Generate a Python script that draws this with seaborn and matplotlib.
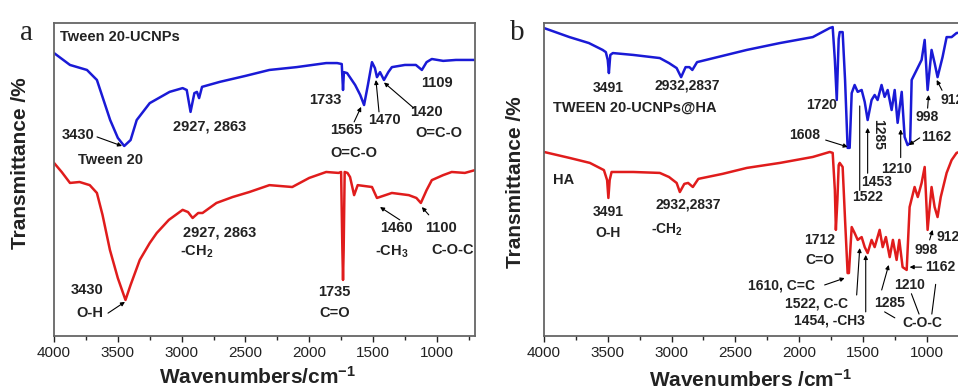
import numpy as np
import pandas as pd
import matplotlib
matplotlib.use('Agg')
import matplotlib.pyplot as plt
import seaborn as sns

# panel a: Tween 20-UCNPs (blue) and Tween 20 (red)
wn_a_blue = [4000, 3875, 3742, 3664, 3560, 3500, 3450, 3400, 3352, 3250, 3094, 2992, 2960, 2930,
             2900, 2880, 2863, 2840, 2700, 2500, 2312, 2100, 1867, 1781, 1745, 1735, 1728, 1703,
             1640, 1600, 1570, 1540, 1508, 1485, 1469, 1445, 1414, 1380, 1352, 1250, 1164, 1117,
             1080, 1039, 950, 850, 700]
t_a_blue = [90.4, 86.6, 85.0, 81.8, 69.0, 63.3, 60.7, 62.6, 69.0, 74.4, 78.0, 79.2, 78.6, 71.6,
            77.6, 78.0, 76.0, 79.6, 81.2, 83.1, 85.0, 85.9, 87.2, 87.2, 86.9, 78.6, 84.3, 84.0,
            80.2, 77.0, 73.8, 80.2, 87.5, 85.6, 82.7, 84.3, 81.8, 84.3, 85.9, 86.6, 86.6, 85.0,
            87.5, 88.5, 87.9, 88.2, 88.2]

wn_a_red = [4000, 3940, 3875, 3800, 3720, 3664, 3620, 3562, 3500, 3440, 3400, 3328, 3250, 3195,
            3100, 2992, 2950, 2914, 2870, 2836, 2727, 2600, 2469, 2312, 2133, 2000, 1867, 1770,
            1750, 1740, 1735, 1730, 1722, 1700, 1680, 1648, 1620, 1508, 1469, 1352, 1219, 1160,
            1125, 1080, 1039, 950, 883, 780, 700]
t_a_red = [55.3, 52.4, 48.9, 49.2, 48.2, 45.7, 38.7, 27.5, 18.5, 11.5, 16.3, 24.3, 29.7, 32.9,
           37.1, 40.3, 39.6, 37.7, 39.3, 39.3, 42.5, 44.4, 46.0, 48.2, 47.6, 50.5, 52.4, 52.1,
           52.4, 27.5, 17.9, 27.5, 52.4, 52.1, 50.8, 45.0, 48.2, 47.6, 44.1, 45.7, 45.0, 44.1,
           42.5, 46.6, 49.8, 51.4, 52.4, 52.1, 53.0]

# panel b: TWEEN 20-UCNPs@HA (blue) and HA (red)
wn_b_blue = [4000, 3800, 3648, 3540, 3515, 3500, 3491, 3480, 3460, 3300, 3092, 3020, 2960, 2925,
             2890, 2860, 2837, 2800, 2600, 2410, 2150, 1893, 1760, 1737, 1720, 1705, 1690, 1682,
             1659, 1640, 1620, 1604, 1588, 1565, 1541, 1510, 1486, 1463, 1432, 1408, 1385, 1354,
             1330, 1306, 1275, 1251, 1228, 1196, 1173, 1150, 1130, 1118, 1079, 1040, 1016, 993,
             962, 938, 915, 876, 844, 805, 766, 700]
t_b_blue = [98.4, 95.5, 93.6, 91.4, 90.7, 88.2, 84.0, 89.8, 90.4, 89.8, 88.8, 87.2, 85.6, 82.7,
            85.9, 85.9, 85.0, 87.5, 89.5, 91.4, 93.6, 95.5, 98.4, 98.7, 88.2, 75.4, 94.9, 97.1,
            97.1, 81.8, 60.1, 60.1, 77.6, 80.2, 78.0, 78.6, 74.8, 69.0, 75.4, 77.0, 75.4, 80.2,
            76.4, 78.6, 72.2, 78.6, 68.1, 78.0, 63.6, 61.0, 61.7, 81.8, 85.0, 88.2, 94.6, 78.6,
            91.4, 87.2, 82.7, 89.1, 95.5, 95.5, 96.8, 97.1]

wn_b_red = [4000, 3800, 3640, 3530, 3505, 3495, 3485, 3470, 3300, 3092, 3020, 2960, 2935, 2900,
            2870, 2833, 2790, 2600, 2410, 2150, 1893, 1760, 1737, 1720, 1712, 1700, 1690, 1682,
            1659, 1640, 1620, 1610, 1588, 1565, 1541, 1510, 1486, 1463, 1432, 1408, 1369, 1345,
            1320, 1290, 1265, 1236, 1215, 1189, 1157, 1134, 1095, 1070, 1040, 1016, 993, 962,
            938, 915, 890, 844, 805, 766, 700]
t_b_red = [58.8, 56.9, 55.3, 53.0, 49.8, 44.1, 49.8, 52.4, 52.4, 52.1, 50.8, 48.9, 46.0, 48.6,
           48.9, 47.6, 50.2, 51.8, 53.7, 55.3, 57.2, 58.8, 58.5, 46.6, 33.9, 43.5, 54.6, 55.3,
           54.0, 37.1, 20.1, 20.1, 34.8, 32.9, 30.7, 31.6, 28.4, 26.5, 30.7, 28.4, 33.9, 28.4,
           31.6, 25.2, 30.7, 24.3, 30.7, 22.0, 21.1, 41.2, 47.6, 44.4, 48.9, 54.0, 33.9, 47.6,
           41.2, 38.0, 44.4, 52.1, 56.2, 58.5, 59.4]

x_ticks = [4000, 3500, 3000, 2500, 2000, 1500, 1000]

BLUE = '#1a1ad6'
RED = '#e01c1c'

sns.set_theme(style='white')
plt.rcParams['font.family'] = ['Liberation Sans', 'DejaVu Sans']
plt.rcParams['mathtext.default'] = 'regular'

fig = plt.figure(figsize=(9.58, 3.9), dpi=100)
ax_a = fig.add_axes([0.0564, 0.1385, 0.4395, 0.8025])
ax_b = fig.add_axes([0.5678, 0.1385, 0.4395, 0.8025])

for ax, wb, tb, wr, tr in [(ax_a, wn_a_blue, t_a_blue, wn_a_red, t_a_red),
                           (ax_b, wn_b_blue, t_b_blue, wn_b_red, t_b_red)]:
    sns.lineplot(x=wb, y=tb, ax=ax, color=BLUE, lw=1.8, sort=False, estimator=None)
    sns.lineplot(x=wr, y=tr, ax=ax, color=RED, lw=1.8, sort=False, estimator=None)
    ax.set_xlim(4000, 700)
    ax.set_ylim(0, 100)
    ax.set_xticks(x_ticks)
    ax.set_xticks(np.arange(3750, 700, -500), minor=True)
    ax.set_yticks([])
    ax.tick_params(axis='x', which='major', direction='out', length=4, width=1, pad=3,
                   labelsize=11, colors='#222222', bottom=True)
    ax.tick_params(axis='x', which='minor', direction='out', length=3, width=1, bottom=True)
    for s in ax.spines.values():
        s.set_color('#666666')
        s.set_linewidth(1.3)

arrow_kw = dict(arrowstyle='-|>', color='black', lw=0.8, mutation_scale=6, shrinkA=0, shrinkB=0)
line_kw = dict(arrowstyle='-', color='black', lw=0.8, shrinkA=0, shrinkB=0)
tk = dict(fontsize=10, fontweight='bold', color='#222222', ha='center', va='center')
tka = {**tk, 'fontsize': 10.5}

# ---- panel a texts
ax_a.text(3953, 95.5, 'Tween 20-UCNPs', fontsize=10.5, fontweight='bold', color='#222222',
          ha='left', va='center')
ax_a.text(3812, 64.2, '3430', **tka)
ax_a.annotate('', xy=(3467, 60.7), xytext=(3663, 63.6), arrowprops=arrow_kw)
ax_a.text(3561, 56.2, 'Tween 20', **tka)
ax_a.text(2781, 66.8, '2927, 2863', **tka)
ax_a.text(1875, 75.4, '1733', **tka)
ax_a.text(1711, 65.8, '1565', **tka)
ax_a.annotate('', xy=(1593, 73.2), xytext=(1648, 68.4), arrowprops=arrow_kw)
ax_a.text(1648, 58.5, 'O=C-O', **tka)
ax_a.text(1414, 69.0, '1470', **tka)
ax_a.annotate('', xy=(1477, 81.8), xytext=(1453, 71.6), arrowprops=arrow_kw)
ax_a.text(1078, 71.6, '1420', **tka)
ax_a.annotate('', xy=(1414, 81.0), xytext=(1180, 72.8), arrowprops=arrow_kw)
ax_a.text(984, 64.9, 'O=C-O', **tka)
ax_a.text(1000, 80.8, '1109', **tka)

ax_a.text(2700, 33.2, '2927, 2863', **tka)
ax_a.text(2880, 27.0, '-CH$_2$', **tka)
ax_a.text(3742, 14.7, '3430', **tka)
ax_a.text(3718, 7.3, 'O-H', **tka)
ax_a.annotate('', xy=(3444, 10.9), xytext=(3577, 7.3), arrowprops=arrow_kw)
ax_a.text(1800, 14.1, '1735', **tka)
ax_a.text(1800, 7.3, 'C=O', **tka)
ax_a.text(1314, 34.5, '1460', **tka)
ax_a.annotate('', xy=(1445, 41.2), xytext=(1290, 37.1), arrowprops=arrow_kw)
ax_a.text(1353, 27.0, '-CH$_3$', **tka)
ax_a.text(969, 34.5, '1100', **tka)
ax_a.annotate('', xy=(1117, 41.2), xytext=(1063, 38.7), arrowprops=arrow_kw)
ax_a.text(875, 27.5, 'C-O-C', **tka)

# ---- panel b texts
ax_b.text(3499, 79.2, '3491', **tk)
ax_b.text(2880, 79.9, '2932,2837', **tk)
ax_b.text(3930, 72.8, 'TWEEN 20-UCNPs@HA', fontsize=10.5, fontweight='bold', color='#222222',
          ha='left', va='center')
ax_b.text(1823, 73.8, '1720', **tk)
ax_b.text(1956, 64.2, '1608', **tk)
ax_b.annotate('', xy=(1619, 60.4), xytext=(1792, 62.6), arrowprops=arrow_kw)
ax_b.text(3930, 49.8, 'HA', fontsize=10.5, fontweight='bold', color='#222222',
          ha='left', va='center')
ax_b.text(993, 70.0, '998', **tk)
ax_b.annotate('', xy=(985, 77.0), xytext=(993, 72.8), arrowprops=arrow_kw)
ax_b.text(891, 75.4, '912', **{**tk, 'ha': 'left'})
ax_b.annotate('', xy=(922, 81.8), xytext=(880, 78.5), arrowprops=arrow_kw)
ax_b.text(1040, 63.6, '1162', **{**tk, 'ha': 'left'})
ax_b.annotate('', xy=(1140, 61.0), xytext=(1055, 63.3), arrowprops=arrow_kw)
ax_b.text(1384, 64.5, '1285', rotation=-90, **tk)
ax_b.text(1236, 53.4, '1210', **tk)
ax_b.annotate('', xy=(1204, 66.0), xytext=(1204, 57.0), arrowprops=arrow_kw)
ax_b.text(1392, 49.2, '1453', **tk)
ax_b.annotate('', xy=(1463, 66.5), xytext=(1463, 52.0), arrowprops=arrow_kw)
ax_b.text(1463, 44.4, '1522', **tk)
ax_b.annotate('', xy=(1525, 73.5), xytext=(1525, 46.5), arrowprops=line_kw)

ax_b.text(3499, 39.6, '3491', **tk)
ax_b.text(3499, 32.9, 'O-H', **tk)
ax_b.text(2872, 41.9, '2932,2837', **tk)
ax_b.text(3037, 34.0, '-CH$_2$', **tk)
ax_b.text(1839, 30.7, '1712', **tk)
ax_b.text(1839, 24.3, 'C=O', **tk)
ax_b.text(2136, 16.0, '1610, C=C', **tk)
ax_b.annotate('', xy=(1643, 18.5), xytext=(1800, 16.3), arrowprops=arrow_kw)
ax_b.text(1862, 10.5, '1522, C-C', **tk)
ax_b.annotate('', xy=(1525, 28.1), xytext=(1549, 13.1), arrowprops=arrow_kw)
ax_b.text(1760, 5.1, '1454, -CH3', **tk)
ax_b.annotate('', xy=(1478, 25.9), xytext=(1478, 7.7), arrowprops=arrow_kw)
ax_b.text(1290, 10.5, '1285', **tk)
ax_b.annotate('', xy=(1298, 22.7), xytext=(1353, 14.7), arrowprops=arrow_kw)
ax_b.text(1134, 16.3, '1210', **tk)
ax_b.text(1032, 4.2, 'C-O-C', **tk)
ax_b.annotate('', xy=(1330, 7.7), xytext=(1250, 5.8), arrowprops=line_kw)
ax_b.annotate('', xy=(1120, 13.5), xytext=(1060, 7.0), arrowprops=line_kw)
ax_b.annotate('', xy=(930, 16.5), xytext=(960, 7.0), arrowprops=line_kw)
ax_b.text(1001, 27.5, '998', **tk)
ax_b.annotate('', xy=(954, 33.9), xytext=(977, 30.7), arrowprops=arrow_kw)
ax_b.text(922, 31.6, '912', **{**tk, 'ha': 'left'})
ax_b.text(1016, 22.0, '1162', **{**tk, 'ha': 'left'})
ax_b.annotate('', xy=(1134, 22.0), xytext=(1040, 22.0), arrowprops=arrow_kw)

# axis labels and panel letters
fig.text(0.021, 0.582, 'Transmittance /%', rotation=90, fontsize=15, fontweight='bold',
         color='#222222', ha='center', va='center')
fig.text(0.538, 0.533, 'Transmittance /%', rotation=90, fontsize=15, fontweight='bold',
         color='#222222', ha='center', va='center')
fig.text(0.269, 0.035, 'Wavenumbers/cm$^{-1}$', fontsize=15, fontweight='bold',
         color='#222222', ha='center', va='center')
fig.text(0.783, 0.025, 'Wavenumbers /cm$^{-1}$', fontsize=15, fontweight='bold',
         color='#222222', ha='center', va='center')
fig.text(0.028, 0.915, 'a', fontsize=21, family='Liberation Serif', color='#222222',
         ha='center', va='center')
fig.text(0.540, 0.915, 'b', fontsize=21, family='Liberation Serif', color='#222222',
         ha='center', va='center')

fig.savefig('out.png', dpi=100)
